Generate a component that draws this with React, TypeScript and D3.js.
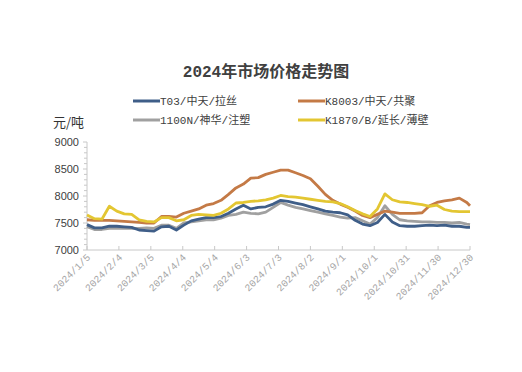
import React from "react";
import * as d3 from "d3";

// weekly samples
const dates = [
  "2024-01-05", "2024-01-12", "2024-01-19", "2024-01-26", "2024-02-02", "2024-02-09", "2024-02-16", "2024-02-23",
  "2024-03-01", "2024-03-08", "2024-03-15", "2024-03-22", "2024-03-29", "2024-04-05", "2024-04-12", "2024-04-19",
  "2024-04-26", "2024-05-03", "2024-05-10", "2024-05-17", "2024-05-24", "2024-05-31", "2024-06-07", "2024-06-14",
  "2024-06-21", "2024-06-28", "2024-07-05", "2024-07-12", "2024-07-19", "2024-07-26", "2024-08-02", "2024-08-09",
  "2024-08-16", "2024-08-23", "2024-08-30", "2024-09-06", "2024-09-13", "2024-09-20", "2024-09-27", "2024-10-04",
  "2024-10-11", "2024-10-18", "2024-10-25", "2024-11-01", "2024-11-08", "2024-11-15", "2024-11-22", "2024-11-29",
  "2024-12-06", "2024-12-13", "2024-12-20", "2024-12-27", "2024-12-30",
];

const t03 = [
  7470, 7410, 7410, 7440, 7440, 7430, 7420, 7370, 7360, 7350, 7430, 7440, 7370, 7460, 7540, 7570,
  7600, 7600, 7620, 7680, 7760, 7830, 7760, 7790, 7800, 7850, 7920, 7900, 7870, 7840, 7800, 7760,
  7720, 7700, 7690, 7650, 7550, 7480, 7450, 7510, 7660, 7520, 7450, 7440, 7440, 7450, 7460, 7450,
  7460, 7440, 7440, 7420, 7420,
];
const k8003 = [
  7560, 7550, 7550, 7550, 7540, 7530, 7520, 7510, 7500, 7500, 7620, 7620, 7610, 7680, 7720, 7760,
  7830, 7860, 7920, 8030, 8150, 8220, 8330, 8340, 8400, 8440, 8480, 8480, 8430, 8380, 8320, 8180,
  8030, 7920, 7850, 7790, 7720, 7640, 7600, 7660, 7720, 7700, 7680, 7680, 7680, 7690, 7820, 7880,
  7910, 7930, 7960, 7880, 7820,
];
const n1100 = [
  7430, 7380, 7380, 7400, 7400, 7400, 7400, 7400, 7410, 7400, 7460, 7460, 7400, 7500, 7520, 7540,
  7560, 7560, 7590, 7640, 7660, 7700, 7680, 7670, 7700, 7790, 7880, 7830, 7790, 7760, 7730, 7700,
  7670, 7640, 7610, 7590, 7600, 7540, 7480, 7600, 7820, 7660, 7560, 7540, 7530, 7520, 7520, 7510,
  7510, 7500, 7510, 7480, 7470,
];
const k1870 = [
  7650, 7580, 7570, 7810, 7720, 7670, 7660, 7560, 7530, 7520, 7600, 7600, 7540, 7560, 7640, 7660,
  7650, 7640, 7680, 7760, 7870, 7880, 7900, 7910, 7930, 7960, 8010, 7990, 7980, 7960, 7940, 7920,
  7900, 7890, 7860, 7800, 7730, 7670, 7620, 7760, 8040, 7930, 7890, 7880, 7860, 7840, 7810, 7830,
  7750, 7720, 7710, 7710, 7710,
];

const seriesNames = ["T03/中天/拉丝", "K8003/中天/共聚", "1100N/神华/注塑", "K1870/B/延长/薄壁"];
const seriesColors = ["#3f5e88", "#c47a46", "#a0a0a0", "#e3c632"];

const xTickLabels = [
  "2024/1/5", "2024/2/4", "2024/3/5", "2024/4/4", "2024/5/4", "2024/6/3", "2024/7/3",
  "2024/8/2", "2024/9/1", "2024/10/1", "2024/10/31", "2024/11/30", "2024/12/30",
];
const yTicks = [7000, 7500, 8000, 8500, 9000];

const W = 522;
const H = 372;
const left = 87;
const right = 470;
const top = 142;
const bottom = 250;

const parse = d3.timeParse("%Y-%m-%d");
const parseTick = d3.timeParse("%Y/%m/%d");

export default function App() {
  const x = d3.scaleTime().domain([parse("2024-01-05")!, parse("2024-12-30")!]).range([left, right]);
  const y = d3.scaleLinear().domain([7000, 9000]).range([bottom, top]);

  const all = [t03, k8003, n1100, k1870];
  // draw order: gray, blue, orange, yellow on top
  const order = [2, 0, 1, 3];

  const line = d3
    .line<number>()
    .x((_, i) => x(parse(dates[i])!))
    .y((d) => y(d))
    .curve(d3.curveLinear);

  const minor = d3.range(7000, 9001, 100);

  const legendPos = [
    { lx: 133, ly: 101 },
    { lx: 298, ly: 101 },
    { lx: 133, ly: 120 },
    { lx: 298, ly: 120 },
  ];

  return (
    <svg
      width={W}
      height={H}
      style={{ position: "absolute", left: 0, top: 0, background: "#fff" }}
    >
      <text
        x={266}
        y={77}
        textAnchor="middle"
        fontFamily="'Liberation Mono', 'Noto Sans CJK SC'"
        fontWeight="bold"
        fontSize={16}
        fill="#404040"
      >
        2024年市场价格走势图
      </text>

      {/* legend */}
      {seriesNames.map((name, i) => (
        <g key={name}>
          <line
            x1={legendPos[i].lx}
            x2={legendPos[i].lx + 27}
            y1={legendPos[i].ly}
            y2={legendPos[i].ly}
            stroke={seriesColors[i]}
            strokeWidth={3}
          />
          <text
            x={legendPos[i].lx + 27}
            y={legendPos[i].ly + 4}
            fontFamily="'Liberation Mono', 'Noto Sans CJK SC'"
            fontSize={11}
            fill="#404040"
          >
            {name}
          </text>
        </g>
      ))}

      <text x={53} y={127} fontFamily="'Noto Sans CJK SC'" fontSize={13} fill="#333">
        元/吨
      </text>

      {/* y axis */}
      <line x1={left} x2={left} y1={top} y2={bottom} stroke="#c8c8c8" />
      {minor.map((v) => (
        <line
          key={v}
          x1={left - (v % 500 === 0 ? 4 : 3)}
          x2={left}
          y1={y(v)}
          y2={y(v)}
          stroke="#c8c8c8"
        />
      ))}
      {yTicks.map((v) => (
        <text
          key={v}
          x={79}
          y={y(v) + 4}
          textAnchor="end"
          fontFamily="'Liberation Sans', Arial, sans-serif"
          fontSize={11}
          fill="#404040"
        >
          {v}
        </text>
      ))}

      {/* x axis */}
      <line x1={left} x2={right} y1={bottom} y2={bottom} stroke="#c8c8c8" />
      {xTickLabels.map((t) => {
        const tx = x(parseTick(t)!);
        return (
          <g key={t}>
            <line x1={tx} x2={tx} y1={bottom - 4} y2={bottom} stroke="#c8c8c8" />
            <text
              transform={`translate(${tx + 4},${bottom + 8}) rotate(-45)`}
              textAnchor="end"
              fontFamily="'Liberation Mono', monospace"
              fontSize={10}
              fill="#a6a6a6"
            >
              {t}
            </text>
          </g>
        );
      })}

      {/* series */}
      {order.map((k) => (
        <path
          key={k}
          d={line(all[k]) ?? ""}
          fill="none"
          stroke={seriesColors[k]}
          strokeWidth={2.8}
          strokeLinejoin="round"
        />
      ))}
    </svg>
  );
}
